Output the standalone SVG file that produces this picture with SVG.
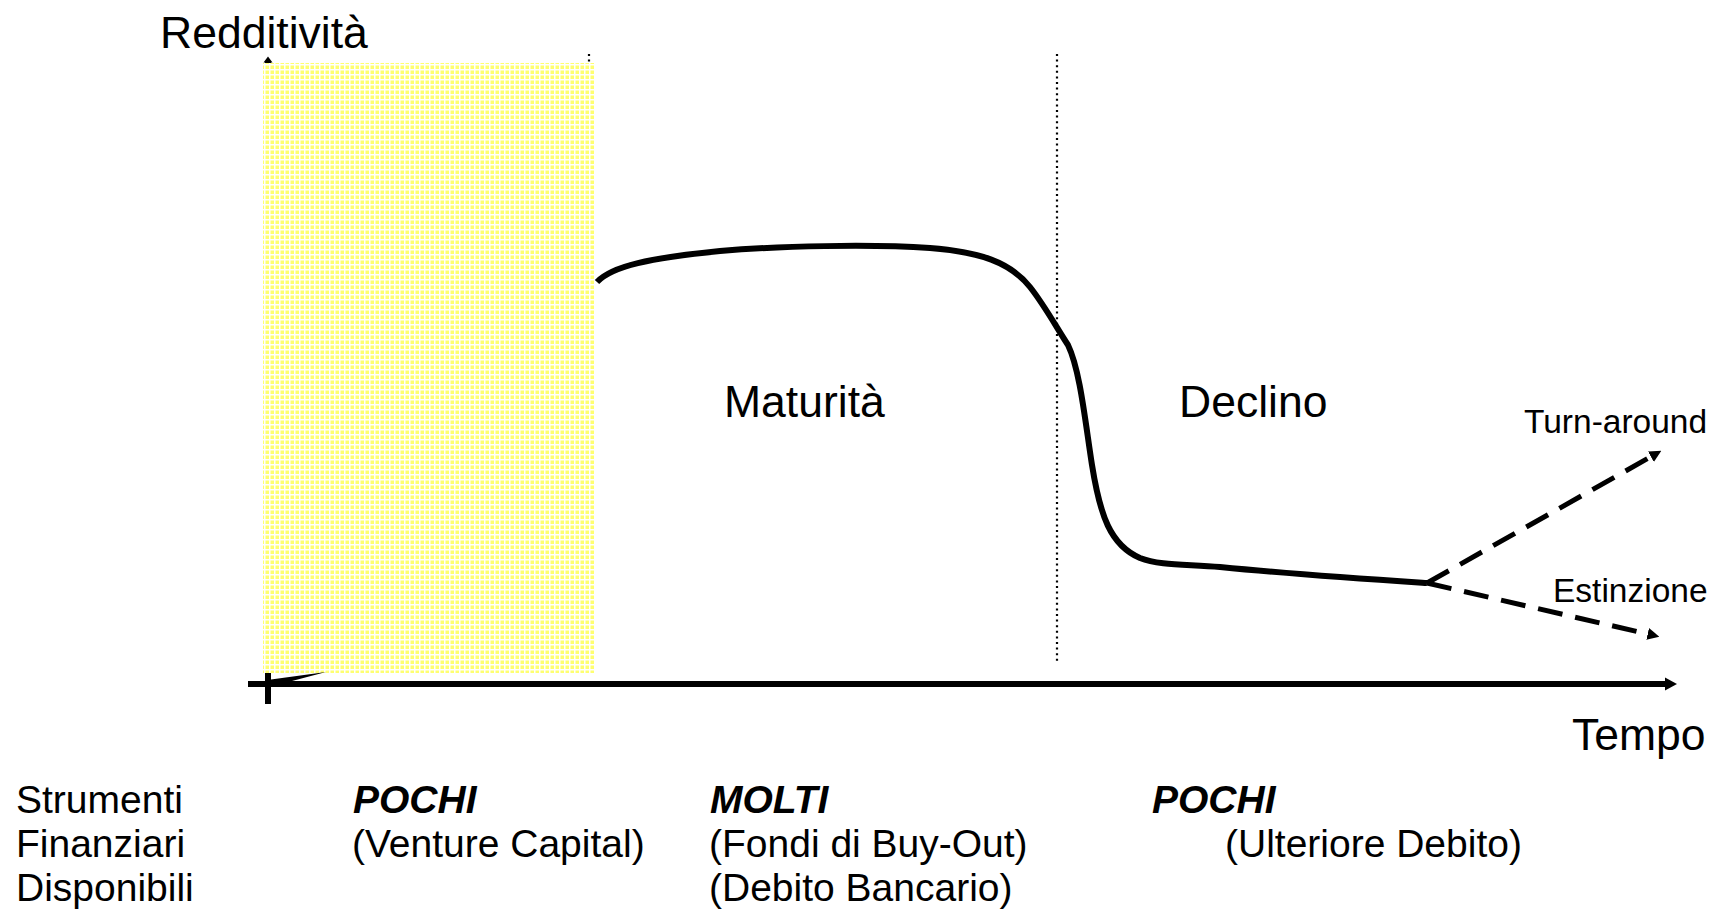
<svg xmlns="http://www.w3.org/2000/svg" width="1719" height="912" viewBox="0 0 1719 912">
  <style>
    .lbl { font-family: "Liberation Sans", Arial, sans-serif; fill: #000; }
    .big { font-size: 44.5px; }
    .mid { font-size: 33.5px; }
    .row { font-size: 39px; }
    .em { font-weight: bold; font-style: italic; }
    .axis { stroke: #000; stroke-width: 6; fill: none; }
    .guide { stroke: #000; stroke-width: 2.2; stroke-dasharray: 2 3.6; fill: none; }
    .curve { stroke: #000; stroke-width: 6; fill: none; stroke-linejoin: round; }
    .branch { stroke: #000; stroke-width: 5; fill: none; stroke-dasharray: 25 13; }
  </style>
  <defs>
    <pattern id="yellowDots" width="5" height="5" patternUnits="userSpaceOnUse">
      <rect width="5" height="5" fill="#ffffff"/>
      <rect x="0.5" y="0.5" width="3.5" height="3.5" fill="#ffff70"/>
    </pattern>
    <marker id="tip" viewBox="0 0 10 10" refX="2" refY="5" markerWidth="2.4" markerHeight="2.4" orient="auto" markerUnits="strokeWidth">
      <path d="M0,0 L10,5 L0,10 Z" fill="#000"/>
    </marker>
  </defs>

  <rect width="1719" height="912" fill="#ffffff"/>

  <!-- axes -->
  <g id="axes">
    <line class="axis" x1="268" y1="704" x2="268" y2="62" stroke-width="5"/>
    <polygon points="263.5,62.5 268,56.5 272.5,62.5" fill="#000"/>
    <line class="guide" x1="589" y1="54" x2="589" y2="672"/>
  </g>

  <!-- start-up phase band -->
  <g id="phase-startup">
    <rect x="263" y="63" width="331" height="610" fill="url(#yellowDots)"/>
  </g>

  <g id="axis-x">
    <line class="axis" x1="248" y1="684" x2="1667" y2="684"/>
    <polygon points="1665,677.5 1677,684 1665,690.5" fill="#000"/>
    <line class="axis" x1="268" y1="673" x2="268" y2="704" stroke-width="5.5"/>
    <polygon points="270,684 271,679.5 326,672 292,681" fill="#000"/>
  </g>

  <!-- boundary between maturity and decline -->
  <g id="divider">
    <line class="guide" x1="1057" y1="54" x2="1057" y2="664"/>
  </g>

  <!-- profitability curve and outcomes -->
  <g id="connectors">
    <path class="curve" d="M597,282 C612,266 650,258 720,251 C780,246 870,244 930,248 C980,252 1010,262 1030,287 C1045,306 1058,330 1068,345 C1080,370 1085,420 1092,465 C1100,515 1110,545 1140,558 C1160,566 1190,564 1220,567 C1300,575 1380,580 1427,583"/>
    <line class="branch" x1="1427" y1="583" x2="1653" y2="455.5" marker-end="url(#tip)"/>
    <line class="branch" x1="1427" y1="583" x2="1650" y2="634.5" marker-end="url(#tip)"/>
  </g>

  <g id="label-y"><text class="lbl big" x="160" y="48">Redditività</text></g>
  <g id="label-x"><text class="lbl big" x="1572" y="750">Tempo</text></g>
  <g id="phase-maturity"><text class="lbl big" x="724" y="417">Maturità</text></g>
  <g id="phase-decline"><text class="lbl big" x="1179" y="417">Declino</text></g>
  <g id="outcome-turnaround"><text class="lbl mid" x="1524" y="433">Turn-around</text></g>
  <g id="outcome-extinction"><text class="lbl mid" x="1553" y="602">Estinzione</text></g>

  <!-- available financial instruments per phase -->
  <g id="row-title" class="lbl row">
    <text x="16" y="813">Strumenti</text>
    <text x="16" y="857">Finanziari</text>
    <text x="16" y="901">Disponibili</text>
  </g>
  <g id="instr-startup" class="lbl row">
    <text class="em" x="353" y="813">POCHI</text>
    <text x="352" y="857">(Venture Capital)</text>
  </g>
  <g id="instr-maturity" class="lbl row">
    <text class="em" x="710" y="813">MOLTI</text>
    <text x="709" y="857">(Fondi di Buy-Out)</text>
    <text x="709" y="901">(Debito Bancario)</text>
  </g>
  <g id="instr-decline" class="lbl row">
    <text class="em" x="1152" y="813">POCHI</text>
    <text x="1225" y="857">(Ulteriore Debito)</text>
  </g>
</svg>
